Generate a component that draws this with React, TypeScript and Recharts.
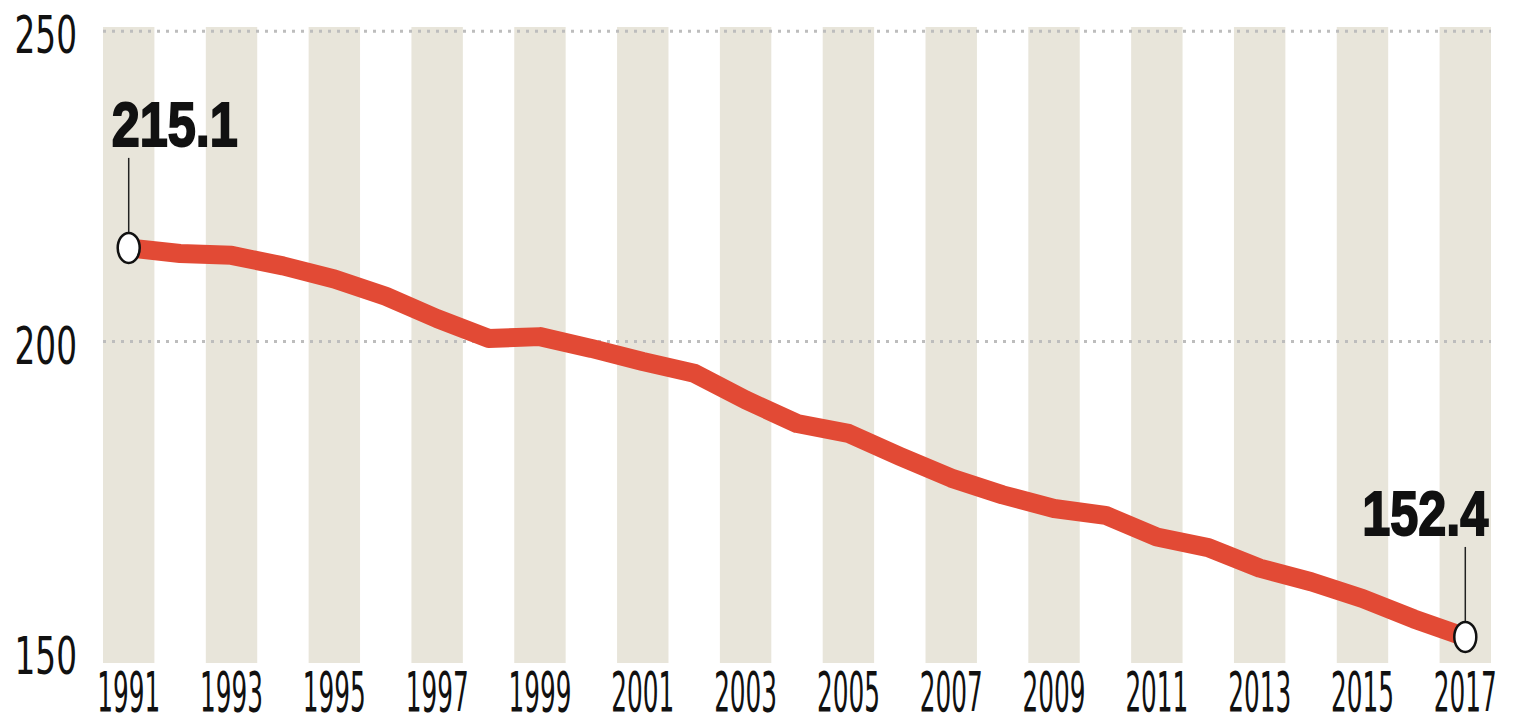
import React from "react";
import { LineChart, Line, XAxis, YAxis, ReferenceArea, ReferenceLine } from "recharts";

const years = [1991,1992,1993,1994,1995,1996,1997,1998,1999,2000,2001,2002,2003,2004,2005,2006,2007,2008,2009,2010,2011,2012,2013,2014,2015,2016,2017];
const values = [215.1,214.2,213.9,212.2,210.1,207.3,203.7,200.5,200.8,198.9,196.8,194.9,190.6,186.8,185.2,181.5,178.0,175.3,173.1,172.0,168.5,166.8,163.5,161.3,158.6,155.3,152.4];
const xTicks = [1991,1993,1995,1997,1999,2001,2003,2005,2007,2009,2011,2013,2015,2017];
const yTicks = [150, 200, 250];
const gridValues = [200, 250];
const yDomain: [number, number] = [148.2, 250.7];
const xDomain: [number, number] = [1990.5, 2017.5];

const data = years.map((y, i) => ({ year: y, value: values[i] }));

const NARROW = "'DejaVu Sans Condensed', 'Liberation Sans Narrow', 'Liberation Sans', sans-serif";

const XTick = (props: any) => {
  const { x, y, payload } = props;
  return (
    <text
      transform={`translate(${x},${y + 48}) scale(0.5,1)`}
      textAnchor="middle"
      fontFamily={NARROW}
      fontSize={55}
      fill="#111"
    >
      {payload.value}
    </text>
  );
};

const YTick = (props: any) => {
  const { x, y, payload } = props;
  return (
    <text
      transform={`translate(${x - 26},${y + 22}) scale(0.7,1)`}
      textAnchor="end"
      fontFamily={NARROW}
      fontSize={52}
      fill="#111"
    >
      {payload.value}
    </text>
  );
};

const EndDot = (props: any) => {
  const { cx, cy, index } = props;
  const last = values.length - 1;
  if (index !== 0 && index !== last) return <g key={`d${index}`} />;
  const label = values[index].toFixed(1);
  const isFirst = index === 0;
  return (
    <g key={`d${index}`}>
      <line x1={cx} x2={cx} y1={cy - 14} y2={cy - 90} stroke="#222" strokeWidth={1.5} />
      <ellipse cx={cx} cy={cy} rx={11} ry={15} fill="#fff" stroke="#111" strokeWidth={2.5} />
      <text
        transform={`translate(${isFirst ? cx - 17 : cx + 23},${cy - 102}) scale(0.8,1)`}
        textAnchor={isFirst ? "start" : "end"}
        fontFamily="'Liberation Sans', Arial, sans-serif"
        fontWeight={900}
        fontSize={63}
        fill="#111"
        stroke="#111"
        strokeWidth={2}
      >
        {label}
      </text>
    </g>
  );
};

export default function App() {
  return (
    <div style={{ width: 1514, height: 724, background: "#fff", margin: "-8px 0 0 -8px" }}>
      <LineChart
        width={1514}
        height={724}
        data={data}
        margin={{ top: 27, right: 23, bottom: 0, left: 0 }}
      >
        <XAxis
          dataKey="year"
          type="number"
          domain={xDomain}
          ticks={xTicks}
          axisLine={false}
          tickLine={false}
          tickSize={0}
          tickMargin={0}
          height={61}
          tick={<XTick />}
          interval={0}
          allowDataOverflow
        />
        <YAxis
          type="number"
          domain={yDomain}
          ticks={yTicks}
          axisLine={false}
          tickLine={false}
          tickSize={0}
          tickMargin={0}
          width={103}
          tick={<YTick />}
          interval={0}
          allowDataOverflow
        />
        {xTicks.map((t) => (
          <ReferenceArea
            key={`b${t}`}
            x1={t - 0.5}
            x2={t + 0.5}
            y1={yDomain[0]}
            y2={yDomain[1]}
            fill="#e8e5da"
            fillOpacity={1}
            stroke="none"
            ifOverflow="visible"
          />
        ))}
        {gridValues.map((g) => (
          <ReferenceLine
            key={`g${g}`}
            y={g}
            stroke="#bdbdbd"
            strokeWidth={3}
            strokeDasharray="3 6"
          />
        ))}
        <Line
          type="linear"
          dataKey="value"
          stroke="#e24a35"
          strokeWidth={19}
          strokeLinejoin="round"
          strokeLinecap="round"
          dot={EndDot}
          activeDot={false}
          isAnimationActive={false}
        />
      </LineChart>
    </div>
  );
}
